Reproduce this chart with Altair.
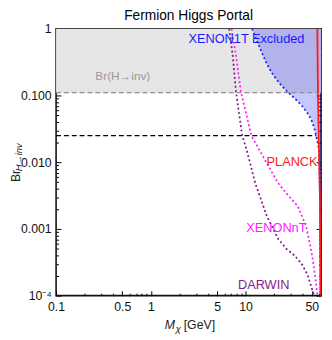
import json
import altair as alt
import pandas as pd

# ---------------- data ----------------
m_domain = [0.1, 62.5]          # M_chi range [GeV]
br_domain = [0.0001, 1.0]       # Br(H->inv) range

# XENON1T excluded boundary (blue dotted)
x1t_m = [11.7, 13.2, 14.8, 16.7, 18.8, 22.5, 27.7, 33.0, 38.4, 44.0, 48.8, 52.5, 55.0, 57.5, 59.4, 60.5, 61.3, 61.8]
x1t_br = [1.0, 0.65, 0.44, 0.30, 0.22, 0.155, 0.113, 0.09, 0.073, 0.057, 0.045, 0.034, 0.026, 0.02, 0.015, 0.005, 0.001, 0.0001]

# DARWIN projection (purple dotted)
darwin_m = [6.7, 7.3, 7.9, 9.2, 10.4, 12.6, 16.7, 22.0, 27.0, 32.8, 39.0, 45.0, 52.8]
darwin_br = [1.0, 0.4, 0.115, 0.025, 0.0142, 0.0049, 0.00157, 0.00071, 0.0005, 0.0004, 0.0003, 0.000206, 0.0001]

# XENONnT projection (magenta dotted)
xnt_m = [7.1, 7.9, 8.9, 11.5, 15.4, 22.0, 28.5, 35.5, 43.3, 48.8, 52.5, 55.0, 57.1]
xnt_br = [1.0, 0.4, 0.115, 0.025, 0.0119, 0.00486, 0.0031, 0.0022, 0.00112, 0.00051, 0.00027, 0.000164, 0.0001]

# PLANCK (red solid)
planck_m = [57.1, 58.0, 59.4, 60.8, 61.5]
planck_br = [1.0, 0.1, 0.015, 0.003, 0.0001]

# horizontal limits
br_inv_limit = 0.11
br_inv_end = 57.5
br_future = 0.025
br_future_end = 55.5

# in-plot labels
label_text = ["XENON1T Excluded", "Br(H→inv)", "PLANCK", "XENONnT", "DARWIN"]
label_m = [10.2, 0.506, 30.9, 21.1, 15.5]
label_br = [0.71, 0.197, 0.0100, 0.00103, 0.000145]
label_color = ["#1a1aff", "#999999", "#ff1a1a", "#ff1aff", "#8b1a8b"]
label_size = [13, 12, 13, 13, 13]

# tick values
x_major = [0.1, 0.5, 1.0, 5.0, 10.0, 50.0]
x_minor = [0.2, 0.3, 0.4, 0.6, 0.7, 0.8, 0.9, 2.0, 3.0, 4.0, 6.0, 7.0, 8.0, 9.0,
           20.0, 30.0, 40.0, 60.0]
y_major = [0.0001, 0.001, 0.01, 0.1, 1.0]
y_minor = [round(k * 10.0 ** e, 10) for e in range(-4, 0) for k in range(2, 10)]

# ---------------- scales / axes ----------------
xs = alt.Scale(type="log", domain=m_domain, nice=False)
ys = alt.Scale(type="log", domain=br_domain, nice=False)

W, H = 270, 272
FONT = "Liberation Sans"


def tick_axis(orient, offset, majors, minors):
    test = "indexof(%s, datum.value) >= 0" % json.dumps(majors)
    return alt.Axis(orient=orient, offset=offset, values=sorted(majors + minors),
                    labels=False, domain=False, grid=False, title=None,
                    ticks=True, tickColor="black", tickWidth=1,
                    tickSize={"condition": {"test": test, "value": 5}, "value": 2.5})


x_label_axis = alt.Axis(orient="bottom", values=x_major, format="~g", ticks=False,
                        tickSize=0, domain=False, grid=False, title=None,
                        labelPadding=5, labelFlush=False, labelOverlap=False)
y_label_axis = alt.Axis(orient="left", values=y_major, ticks=False, tickSize=0,
                        domain=False, grid=False, title=None, labelPadding=5,
                        labelFlush=False, labelOverlap=False,
                        labelExpr="datum.value >= 1 ? '1' : (datum.value < 0.0005 ? '10⁻⁴' : format(datum.value, '.3f'))")

# ---------------- layers ----------------
gray_df = pd.DataFrame({"m0": [m_domain[0]], "m1": [m_domain[1]],
                        "b0": [br_inv_limit], "b1": [br_domain[1]]})
gray = alt.Chart(gray_df).mark_rect(color="#e6e6e6").encode(
    x=alt.X("m0:Q", scale=xs, axis=x_label_axis),
    x2="m1:Q",
    y=alt.Y("b0:Q", scale=ys, axis=y_label_axis),
    y2="b1:Q",
)

area_df = pd.DataFrame({"m": x1t_m, "br": x1t_br, "edge": [m_domain[1]] * len(x1t_m)})
blue_area = alt.Chart(area_df).mark_area(orient="horizontal", color="#0000ff",
                                         opacity=0.22, clip=True).encode(
    y=alt.Y("br:Q", scale=ys, axis=tick_axis("right", -W, y_major, y_minor)),
    x=alt.X("m:Q", scale=xs, axis=tick_axis("top", -H, x_major, x_minor)),
    x2="edge:Q",
)

curves = pd.concat([
    pd.DataFrame({"m": x1t_m, "br": x1t_br, "s": "XENON1T", "c": "#2020ff"}),
    pd.DataFrame({"m": xnt_m, "br": xnt_br, "s": "XENONnT", "c": "#ff20ff"}),
    pd.DataFrame({"m": darwin_m, "br": darwin_br, "s": "DARWIN", "c": "#80208a"}),
])
dotted = alt.Chart(curves).mark_line(strokeDash=[2, 2.5], strokeWidth=1.8,
                                     clip=True).encode(
    x=alt.X("m:Q", scale=xs, axis=tick_axis("bottom", -H, x_major, x_minor)),
    y=alt.Y("br:Q", scale=ys, axis=tick_axis("left", -W, y_major, y_minor)),
    color=alt.Color("c:N", scale=None),
    detail="s:N",
)

planck = alt.Chart(pd.DataFrame({"m": planck_m, "br": planck_br})).mark_line(
    color="#ff1a1a", strokeWidth=1.8, clip=True).encode(
    x=alt.X("m:Q", scale=xs, axis=None),
    y=alt.Y("br:Q", scale=ys, axis=None),
)

rules_df = pd.DataFrame({"m0": [m_domain[0], m_domain[0]],
                         "m1": [br_inv_end, br_future_end],
                         "br": [br_inv_limit, br_future],
                         "c": ["#909090", "#000000"]})
rules = alt.Chart(rules_df).mark_rule(strokeDash=[5, 3], strokeWidth=1.3).encode(
    x=alt.X("m0:Q", scale=xs, axis=None),
    x2="m1:Q",
    y=alt.Y("br:Q", scale=ys, axis=None),
    color=alt.Color("c:N", scale=None),
)

lab_df = pd.DataFrame({"t": label_text, "m": label_m, "br": label_br,
                       "c": label_color, "fs": label_size})
labels = alt.Chart(lab_df).mark_text(font=FONT, align="center", baseline="middle").encode(
    x=alt.X("m:Q", scale=xs, axis=None),
    y=alt.Y("br:Q", scale=ys, axis=None),
    text="t:N",
    color=alt.Color("c:N", scale=None),
    size=alt.Size("fs:Q", scale=None),
)

# axis titles (as text: subscripts needed)
one = pd.DataFrame({"a": [0]})
br_t = alt.Chart(one).mark_text(text="Br", font=FONT, fontSize=12.5, angle=270,
                                align="center", baseline="middle", color="#222").encode(
    x=alt.value(-41), y=alt.value(150))
br_sub = alt.Chart(one).mark_text(text="H→inv", font=FONT, fontSize=9.5, fontStyle="italic",
                                  angle=270, align="center", baseline="middle",
                                  color="#222").encode(x=alt.value(-37.5), y=alt.value(131))
m_t = alt.Chart(one).mark_text(text="M", font=FONT, fontSize=12.5, fontStyle="italic",
                               align="center", baseline="middle", color="#222").encode(
    x=alt.value(116), y=alt.value(302))
chi_t = alt.Chart(one).mark_text(text="χ", font=FONT, fontSize=10, fontStyle="italic",
                                 align="center", baseline="middle", color="#222").encode(
    x=alt.value(124.5), y=alt.value(306))
gev_t = alt.Chart(one).mark_text(text="[GeV]", font=FONT, fontSize=12.5,
                                 align="center", baseline="middle", color="#222").encode(
    x=alt.value(146), y=alt.value(302))

chart = alt.layer(
    gray, blue_area, dotted, planck, rules, labels, br_t, br_sub, m_t, chi_t, gev_t
).resolve_axis(x="independent", y="independent").properties(
    width=W, height=H,
    autosize=alt.AutoSizeParams(type="none"),
    padding={"left": 49, "top": 18, "right": 3, "bottom": 38},
    title=alt.TitleParams("Fermion Higgs Portal", font=FONT, fontSize=14,
                          fontWeight="normal", color="black", anchor="middle", offset=0),
).configure_view(stroke="#111", strokeWidth=1.6).configure_axis(
    labelFont=FONT, labelFontSize=12.5, labelColor="#111"
)

chart.save("out.html", embed_options={"renderer": "svg", "actions": False})
